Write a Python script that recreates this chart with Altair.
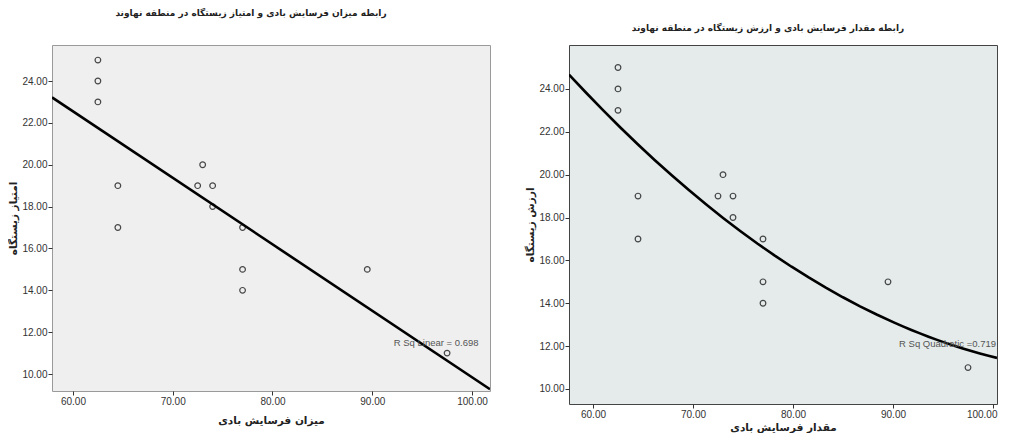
import altair as alt
import pandas as pd

# ---- data ----
erosion = [62.5, 62.5, 62.5, 64.5, 64.5, 72.5, 73.0, 74.0, 74.0, 77.0, 77.0, 77.0, 89.5, 97.5]
habitat = [25, 24, 23, 19, 17, 19, 20, 19, 18, 17, 15, 14, 15, 11]
x_ticks = [60, 70, 80, 90, 100]
y_ticks = [10, 12, 14, 16, 18, 20, 22, 24]

left_title = "رابطه میزان فرسایش بادی و امتیاز زیستگاه در منطقه نهاوند"
left_xlabel = "میزان فرسایش بادی"
left_ylabel = "امتیاز زیستگاه"
left_r2 = ["R Sq Linear = 0.698"]

right_title = "رابطه مقدار فرسایش بادی و ارزش زیستگاه در منطقه نهاوند"
right_xlabel = "مقدار فرسایش بادی"
right_ylabel = "ارزش زیستگاه"
right_r2 = ["R Sq Quadratic =0.719"]

df = pd.DataFrame({"x": erosion, "y": habitat})

FA = "DejaVu Sans"
LAT = "Liberation Sans"


def panel(title, xlabel, ylabel, r2, xdom, ydom, method, r2pos, r2align,
          width, height, fill, stroke, tdx, toff, xtp, ytp, flush):
    xs = alt.Scale(domain=xdom, nice=False, zero=False)
    ys = alt.Scale(domain=ydom, nice=False, zero=False)
    xax_kw = dict(values=x_ticks, format=".2f", title=xlabel, grid=False,
                  domain=False, tickColor="#333", tickSize=4,
                  labelFont=LAT, labelFontSize=10, labelColor="#333",
                  titleFont=FA, titleFontSize=10.5, titleFontWeight="bold",
                  titleColor="#222", titlePadding=xtp, labelPadding=1)
    if flush:
        xax_kw.update(labelFlush=flush, labelFlushOffset=4)
    xax = alt.Axis(**xax_kw)
    yax = alt.Axis(values=y_ticks, format=".2f", title=ylabel, grid=False,
                   domain=False, tickColor="#333", tickSize=4,
                   labelFont=LAT, labelFontSize=10, labelColor="#333",
                   titleFont=FA, titleFontSize=10.5, titleFontWeight="bold",
                   titleColor="#222", titlePadding=ytp, labelPadding=1)
    base = alt.Chart(df)
    pts = base.mark_point(shape="circle", filled=False, color="black",
                          size=32, strokeWidth=1.2).encode(
        x=alt.X("x:Q", scale=xs, axis=xax),
        y=alt.Y("y:Q", scale=ys, axis=yax),
    )
    if method == "linear":
        reg = base.transform_regression("x", "y", method="linear", extent=xdom)
    else:
        reg = base.transform_regression("x", "y", method="poly", order=2, extent=xdom)
    line = reg.mark_line(color="black", strokeWidth=2.6, clip=True).encode(
        x=alt.X("x:Q", scale=xs), y=alt.Y("y:Q", scale=ys))
    txt = alt.Chart(pd.DataFrame({"t": r2})).mark_text(
        font=LAT, fontSize=9.5, color="#555", align=r2align, baseline="middle"
    ).encode(x=alt.datum(r2pos[0]), y=alt.datum(r2pos[1]), text="t:N")
    return alt.layer(pts, line, txt).properties(
        width=width, height=height,
        view=alt.ViewBackground(fill=fill, stroke=stroke, strokeWidth=1),
        title=alt.TitleParams(title, font=FA, fontSize=9, fontWeight="bold",
                              color="#222", anchor="middle", dx=tdx, offset=toff),
    )


left = panel(left_title, left_xlabel, left_ylabel, left_r2,
             [57.9, 101.8], [9.19, 25.72], "linear", (96.4, 11.5), "center",
             438, 346, "#efefef", "#9a9a9a", -20, 27, 9, 3, None)
right = panel(right_title, right_xlabel, right_ylabel, right_r2,
              [57.6, 100.4], [9.30, 26.05], "poly", (100.3, 12.08), "right",
              428, 359, "#e4ebea", "#444444", -15, 12.5, 3, 3, 5)

chart = alt.hconcat(left, right, spacing=79, bounds="flush").properties(
    padding=0, background="white"
).configure_view(strokeWidth=1)

chart.save("out.html", embed_options={"renderer": "svg", "actions": False})
